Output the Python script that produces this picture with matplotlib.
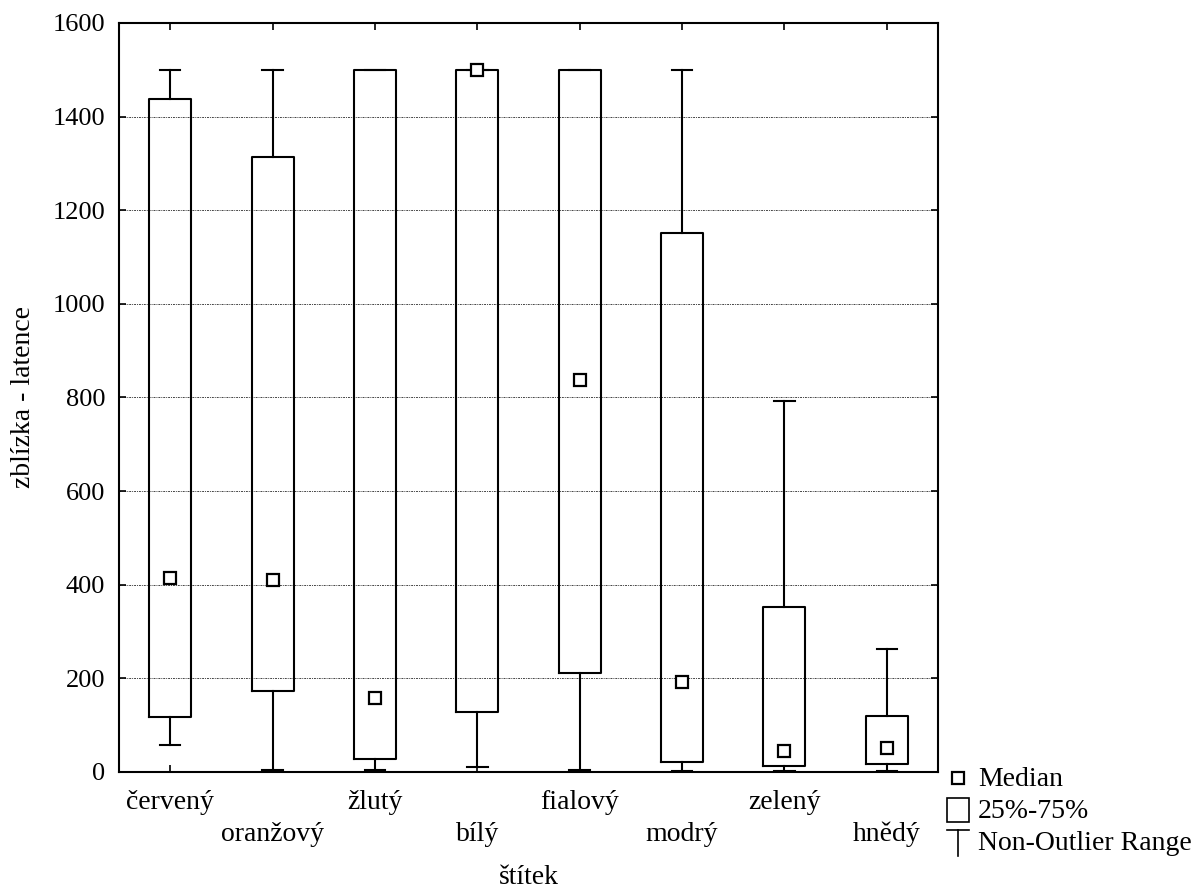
import matplotlib
matplotlib.use("Agg")
import matplotlib.pyplot as plt
from matplotlib.lines import Line2D
from matplotlib.patches import Rectangle

plt.rcParams["font.family"] = ["Liberation Serif", "DejaVu Serif"]
plt.rcParams["font.size"] = 20

# kategorie štítků a souhrnné statistiky latence
labels = ["červený", "oranžový", "žlutý", "bílý", "fialový", "modrý", "zelený", "hnědý"]
median = [414, 410, 158, 1500, 838, 192, 45, 52]
q1 = [117, 172, 28, 128, 212, 22, 13, 17]
q3 = [1437, 1314, 1500, 1500, 1500, 1152, 352, 120]
whis_lo = [58, 5, 5, 11, 5, 3, 3, 3]
whis_hi = [1500, 1500, 1500, 1500, 1500, 1500, 792, 263]
yticks = [0, 200, 400, 600, 800, 1000, 1200, 1400, 1600]

W, H = 1200, 892
fig = plt.figure(figsize=(W / 100, H / 100), dpi=100)
ax = fig.add_axes([119 / W, 1 - 772 / H, (938 - 119) / W, (772 - 23) / H])

stats = [dict(med=m, q1=a, q3=b, whislo=lo, whishi=hi, fliers=[])
         for m, a, b, lo, hi in zip(median, q1, q3, whis_lo, whis_hi)]
pos = list(range(len(labels)))
line = dict(color="black", linewidth=1.5)
ax.bxp(stats, positions=pos, widths=0.41, capwidths=0.2,
       boxprops=line, whiskerprops=line, capprops=line,
       medianprops=dict(visible=False), zorder=3)
ax.plot(pos, median, "s", ms=8, mfc="white", mec="black", mew=1.6,
        linestyle="none", zorder=4, clip_on=False)

ax.set_xlim(-0.5, len(labels) - 0.5)
ax.set_ylim(0, 1600)
ax.set_yticks(yticks)
ax.set_yticklabels([str(v) for v in yticks], fontsize=19)
ax.set_xticks(pos)
ticklabels = [t if i % 2 == 0 else "\n" + t for i, t in enumerate(labels)]
ax.set_xticklabels(ticklabels, linespacing=1.35)
ax.tick_params(axis="both", direction="in", length=5, width=1.2,
               top=True, right=True)
ax.tick_params(axis="x", pad=13)
ax.tick_params(axis="y", pad=10)
ax.yaxis.grid(True, linestyle=(0, (2, 1, 1, 1)), color="#444444", linewidth=0.7)
ax.set_axisbelow(True)
for s in ax.spines.values():
    s.set_linewidth(1.5)

ax.set_xlabel("štítek", labelpad=13)
ax.set_ylabel("zblízka - latence", labelpad=12)

# legenda vpravo dole mimo graf
def fx(x):
    return x / W


def fy(y):
    return 1 - y / H


fig.add_artist(Line2D([fx(958)], [fy(778)], marker="s", ms=8, mfc="white",
                      mec="black", mew=1.6, linestyle="none"))
fig.add_artist(Rectangle((fx(947), fy(822)), fx(969) - fx(947), fy(798) - fy(822),
                         transform=fig.transFigure, fill=False,
                         edgecolor="black", linewidth=1.2))
fig.add_artist(Line2D([fx(947), fx(969)], [fy(830), fy(830)], color="black", lw=1.2))
fig.add_artist(Line2D([fx(958), fx(958)], [fy(830), fy(856)], color="black", lw=1.2))
fig.text(fx(978), fy(779), "Median", va="center", ha="left")
fig.text(fx(978), fy(811), "25%-75%", va="center", ha="left")
fig.text(fx(978), fy(844), "Non-Outlier Range", va="center", ha="left")

fig.savefig("out.png", dpi=100, facecolor="white")
